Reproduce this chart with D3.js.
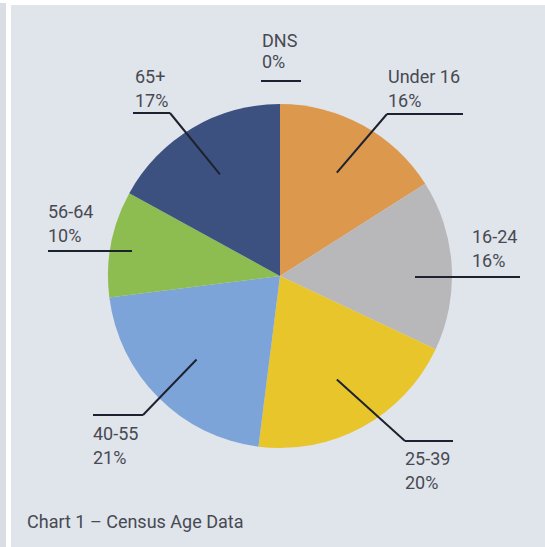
<!DOCTYPE html>
<html>
<head>
<meta charset="utf-8">
<script src="https://cdn.jsdelivr.net/npm/d3@7"></script>
<style>
  body { margin: 0; background: #ffffff; }
  svg { display: block; }
  .lbl { font-family: Roboto, "Liberation Sans", sans-serif; font-size: 18px; fill: #474a52; }
  .cap { font-family: Roboto, "Liberation Sans", sans-serif; font-size: 18px; fill: #474a52; }
  .leader { fill: none; stroke: #1d2230; stroke-width: 2; }
</style>
</head>
<body>
<div id="vis"></div>
<script>
const WIDTH = 545;
const HEIGHT = 547;

// data
const categories = ["Under 16", "16-24", "25-39", "40-55", "56-64", "65+", "DNS"];
const values = [16, 16, 20, 21, 10, 17, 0];
const colors = ["#dc994d", "#b8b8bb", "#e7c52b", "#7da4d8", "#8dbc51", "#3d5181", "#999999"];

const CENTER = {x: 280, y: 276};
const RADIUS = 172;

// label placement: text x, first baseline, horizontal rule [x1, x2, y], elbow (where diagonal meets rule)
const LAYOUT = {
	"Under 16": {tx: 388, ty: 83, rule: [387, 463, 114], elbow: [387, 114]},
	"16-24":    {tx: 472, ty: 243, rule: [415, 520, 277]},
	"25-39":    {tx: 405, ty: 465, rule: [405, 453, 441], elbow: [405, 441]},
	"40-55":    {tx: 93,  ty: 440, rule: [93, 143, 415], elbow: [143, 415]},
	"56-64":    {tx: 48,  ty: 218, rule: [48, 132, 251]},
	"65+":      {tx: 135, ty: 83, rule: [133, 170, 113], elbow: [170, 113]},
	"DNS":      {tx: 262, ty: 47, rule: [261, 301, 81], gap: 21}
};

const svg = d3.select("#vis")
	.append("svg")
		.attr("width", WIDTH)
		.attr("height", HEIGHT);

// panel background + left strip
svg.append("rect")
	.attr("x", 0).attr("y", 3)
	.attr("width", 6).attr("height", HEIGHT)
	.attr("fill", "#d9dde4");
svg.append("rect")
	.attr("x", 11).attr("y", 5)
	.attr("width", WIDTH - 11).attr("height", HEIGHT - 5)
	.attr("fill", "#e0e4eb");

const table = categories.map((c, i) => ({name: c, value: values[i], color: colors[i]}));

const pie = d3.pie()
	.sort(null)
	.value((d) => d.value);

const arcs = pie(table);

const arc = d3.arc().innerRadius(0).outerRadius(RADIUS);
const inner = d3.arc().innerRadius(118).outerRadius(118);

const g = svg.append("g")
	.attr("transform", "translate(" + CENTER.x + "," + CENTER.y + ")");

g.selectAll("path")
	.data(arcs.filter((d) => d.data.value > 0))
	.enter()
	.append("path")
		.attr("d", arc)
		.attr("fill", (d) => d.data.color);

// leader lines + labels
arcs.forEach((d) => {
	const L = LAYOUT[d.data.name];
	svg.append("line")
		.attr("class", "leader")
		.attr("x1", L.rule[0]).attr("x2", L.rule[1])
		.attr("y1", L.rule[2]).attr("y2", L.rule[2]);
	if (L.elbow) {
		const c = inner.centroid(d);
		svg.append("line")
			.attr("class", "leader")
			.attr("x1", L.elbow[0]).attr("y1", L.elbow[1])
			.attr("x2", CENTER.x + c[0]).attr("y2", CENTER.y + c[1]);
	}
	const gap = L.gap || 24;
	svg.append("text")
		.attr("class", "lbl")
		.attr("x", L.tx).attr("y", L.ty)
		.text(d.data.name);
	svg.append("text")
		.attr("class", "lbl")
		.attr("x", L.tx).attr("y", L.ty + gap)
		.text(d.data.value + "%");
});

svg.append("text")
	.attr("class", "cap")
	.attr("x", 27).attr("y", 528)
	.text("Chart 1 \u2013 Census Age Data");
</script>
</body>
</html>
